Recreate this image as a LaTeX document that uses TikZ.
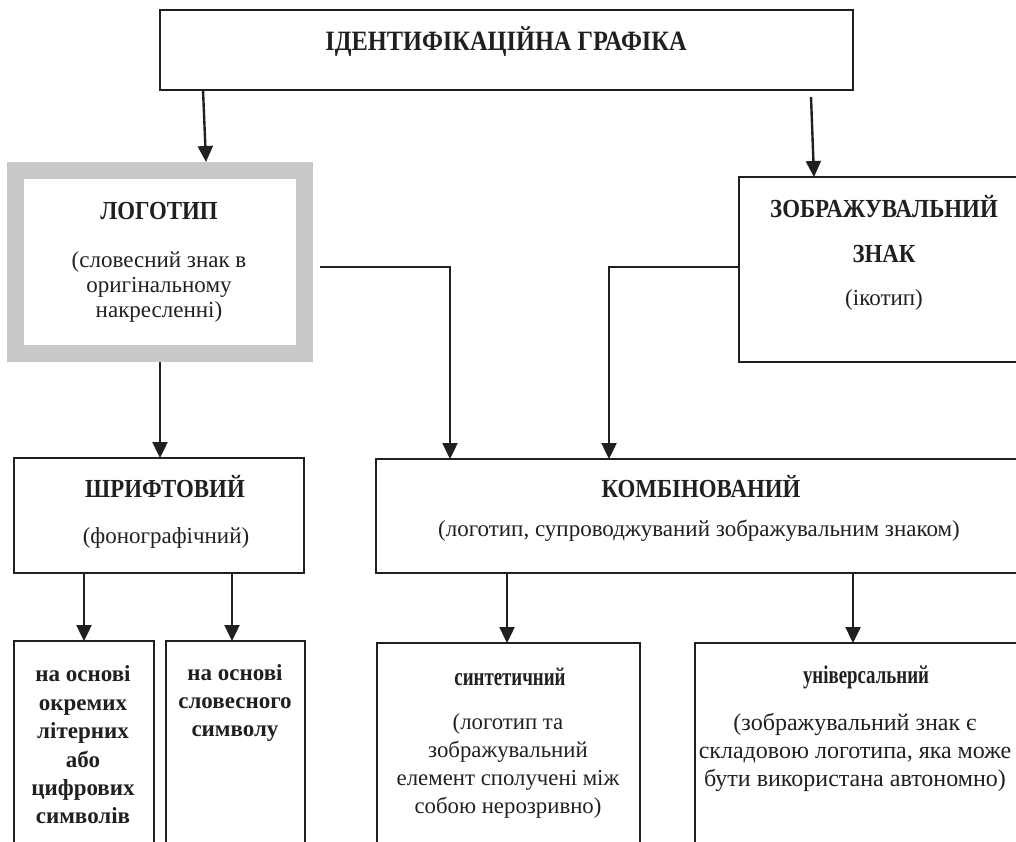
\documentclass[tikz,border=0pt]{standalone}
\usepackage{fontspec}
\setmainfont{Liberation Serif}
\newfontfamily\headfont[FakeStretch=0.88]{Liberation Serif Bold}
\newfontfamily\titlefont[FakeStretch=0.87]{Liberation Serif Bold}
\newfontfamily\subheadfont[FakeStretch=0.74]{Liberation Serif Bold}
\usetikzlibrary{arrows.meta}
\definecolor{ink}{RGB}{35,31,32}
\definecolor{framegray}{RGB}{200,201,203}
\tikzset{
  box/.style={draw=ink, line width=2.4pt, rectangle, inner sep=0pt, outer sep=0pt, anchor=north west},
  graybox/.style={draw=framegray, line width=17pt, rectangle, inner sep=0pt, outer sep=0pt, anchor=north west},
  arr/.style={draw=ink, line width=2.4pt, -{Triangle[length=16pt,width=15pt]}},
  head/.style={font=\headfont\fontsize{26}{30}\selectfont, text=ink, inner sep=0pt},
  titletext/.style={font=\titlefont\fontsize{28}{32}\selectfont, text=ink, inner sep=0pt},
  subhead/.style={font=\subheadfont\fontsize{25.5}{28}\selectfont, text=ink, inner sep=0pt},
  body/.style={font=\fontsize{23}{25}\selectfont, text=ink, inner sep=0pt, align=center},
  bodysynt/.style={font=\fontsize{22.8}{27.7}\selectfont, text=ink, inner sep=0pt, align=center},
  bodyuniv/.style={font=\fontsize{24}{28}\selectfont, text=ink, inner sep=0pt, align=center},
  boldbody/.style={font=\bfseries\fontsize{23}{28.4}\selectfont, text=ink, inner sep=0pt, align=center},
}
\begin{document}
\begin{tikzpicture}[x=1pt,y=-1pt]
\useasboundingbox (0,0) rectangle (1016,841);
\clip (0,0) rectangle (1016,841);
\fill[white] (0,0) rectangle (1016,841);
% boxes
\node[box, minimum width=693pt, minimum height=80pt] (top) at (160,10) {};
\node[graybox, minimum width=289pt, minimum height=183pt] (logo) at (15.5,170.5) {};
\node[box, minimum width=300pt, minimum height=185pt] (zob) at (739,177) {};
\node[box, minimum width=290pt, minimum height=115pt] (shrift) at (14,458) {};
\node[box, minimum width=660pt, minimum height=114pt] (komb) at (376,459) {};
\node[box, minimum width=140pt, minimum height=215pt] (b1) at (14,641) {};
\node[box, minimum width=139pt, minimum height=215pt] (b2) at (166,641) {};
\node[box, minimum width=263pt, minimum height=213pt] (synt) at (377,643) {};
\node[box, minimum width=340pt, minimum height=213pt] (univ) at (695,643) {};
% texts
\node[titletext] (ttop) at (506,42) {ІДЕНТИФІКАЦІЙНА ГРАФІКА};
\node[head] (tlogo) at (159,211) {ЛОГОТИП};
\node[body] (slogo) at (159,287) {(словесний знак в\\оригінальному\\накресленні)};
\node[head] (tzob1) at (884,207) {ЗОБРАЖУВАЛЬНИЙ};
\node[head] (tzob2) at (884,254) {ЗНАК};
\node[body] (szob) at (884,300) {(ікотип)};
\node[head] (tshrift) at (165,487) {ШРИФТОВИЙ};
\node[body] (sshrift) at (166,538) {(фонографічний)};
\node[head] (tkomb) at (701,487) {КОМБІНОВАНИЙ};
\node[body] (skomb) at (699,531) {(логотип, супроводжуваний зображувальним знаком)};
\node[boldbody] (tb1) at (83,745) {на основі\\окремих\\літерних\\або\\цифрових\\символів};
\node[boldbody] (tb2) at (235,703) {на основі\\словесного\\символу};
\node[subhead] (tsynt) at (510,677) {синтетичний};
\node[bodysynt] (ssynt) at (508,766) {(логотип та\\зображувальний\\елемент сполучені між\\собою нерозривно)};
\node[subhead] (tuniv) at (866,677) {універсальний};
\node[bodyuniv] (suniv) at (855,752) {(зображувальний знак є\\складовою логотипа, яка може\\бути використана автономно)};
% connectors
\draw[arr] ([xshift=43pt]top.south west) -- ([xshift=190.5pt,yshift=8.5pt]logo.north west);
\draw[arr] ([xshift=651pt,yshift=-7pt]top.south west) -- ([xshift=75pt]zob.north west);
\draw[arr] ([xshift=15.5pt,yshift=-96.5pt]logo.north east) -- (450,267) -- (komb.north west -| 450,0);
\draw[arr] ([yshift=-90pt]zob.north west) -- (609,267) -- (komb.north west -| 609,0);
\draw[arr] ([xshift=144.5pt,yshift=-8.5pt]logo.south west) -- (shrift.north west -| 160,0);
\draw[arr] (shrift.south west -| 84,0) -- (b1.north west -| 84,0);
\draw[arr] (shrift.south west -| 232,0) -- (b2.north west -| 232,0);
\draw[arr] (komb.south west -| 507,0) -- (synt.north west -| 507,0);
\draw[arr] (komb.south west -| 853,0) -- (univ.north west -| 853,0);
\end{tikzpicture}
\end{document}
